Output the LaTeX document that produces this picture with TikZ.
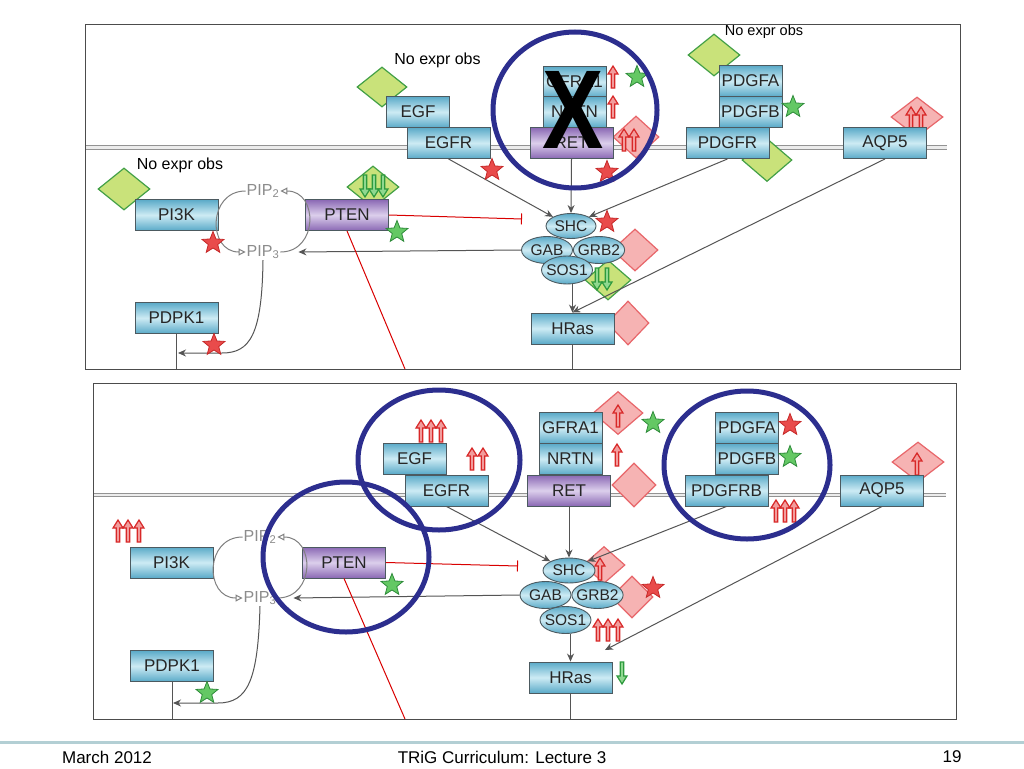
\documentclass[tikz,border=0pt]{standalone}
\usepackage{fontspec}
\setmainfont{Liberation Sans}
\usetikzlibrary{shapes.geometric,arrows.meta}

\definecolor{boxblue}{HTML}{5AAAC8}
\definecolor{boxlight}{HTML}{CDEBF4}
\definecolor{boxpurple}{HTML}{8A68B4}
\definecolor{purplelight}{HTML}{DCCFEC}
\definecolor{boxline}{HTML}{4C5A60}
\definecolor{ringblue}{HTML}{2C2E8E}
\definecolor{diagreen}{HTML}{C9E27A}
\definecolor{diagreenline}{HTML}{43A047}
\definecolor{diared}{HTML}{F6B3B3}
\definecolor{diaredline}{HTML}{E8666A}
\definecolor{starred}{HTML}{E94B4B}
\definecolor{starredline}{HTML}{C62828}
\definecolor{stargreen}{HTML}{64C864}
\definecolor{stargreenline}{HTML}{2E8B3A}
\definecolor{arrred}{HTML}{D82828}
\definecolor{arrpink}{HTML}{F29C9C}
\definecolor{arrgreen}{HTML}{2E9A3E}
\definecolor{arrlgreen}{HTML}{8FD88F}
\definecolor{wire}{HTML}{555555}
\definecolor{footline}{HTML}{B3CFD4}

\begin{document}
\begin{tikzpicture}[x=1pt,y=-1pt]
\tikzstyle{box}=[draw=boxline,line width=0.9pt,top color=boxblue,bottom color=boxblue,middle color=boxlight,minimum width=83pt,minimum height=31pt,inner sep=0pt,text=black!85,font=\fontsize{17}{18}\selectfont];
\tikzstyle{lig}=[box,minimum width=63pt];
\tikzstyle{pbox}=[box,top color=boxpurple,bottom color=boxpurple,middle color=purplelight];
\tikzstyle{prot}=[ellipse,draw=boxline,line width=0.9pt,top color=boxblue,bottom color=boxblue,middle color=boxlight,minimum width=51pt,minimum height=27pt,inner xsep=-3pt,inner ysep=2pt,text=black!85,font=\fontsize{15.5}{16}\selectfont];
\tikzstyle{gdia}=[diamond,draw=diagreenline,fill=diagreen,line width=1.2pt,minimum width=52pt,minimum height=42pt,inner sep=0pt];
\tikzstyle{rdia}=[diamond,draw=diaredline,fill=diared,line width=1.2pt,minimum width=46pt,minimum height=42pt,inner sep=0pt];
\tikzstyle{rstar}=[star,star points=5,star point ratio=2.3,draw=starredline,fill=starred,line width=0.8pt,minimum size=23pt,inner sep=0pt];
\tikzstyle{gstar}=[rstar,draw=stargreenline,fill=stargreen];
\tikzstyle{note}=[font=\fontsize{16}{17}\selectfont,inner sep=0pt];
\tikzstyle{pip}=[font=\fontsize{16}{17}\selectfont,text=gray!90,inner sep=1pt];
\tikzstyle{arr}=[draw=wire,line width=1pt,-{Stealth[length=8pt,width=7pt]}];
\tikzstyle{cyc}=[draw=gray,line width=1pt,-{Triangle[open,length=7pt,width=7pt]}];
\tikzstyle{inh}=[draw=red!85!black,line width=1pt,-{Bar[width=11pt]}];
\tikzstyle{redline}=[draw=red!85!black,line width=1pt];
\tikzstyle{wireline}=[draw=wire,line width=1pt];
\tikzstyle{ring}=[draw=ringblue,line width=5pt];
\tikzstyle{panel}=[draw=black!70,line width=0.9pt];
\tikzstyle{membrane}=[draw=gray!85,double=gray!15,double distance=2.2pt,line width=1.1pt];
\tikzstyle{foot}=[font=\fontsize{17}{18}\selectfont,inner sep=0pt];
\tikzset{uparr/.pic={\filldraw[draw=arrred,fill=arrpink,line width=1.2pt,line join=miter] (-1.8,11) -- (-1.8,-3) -- (-5,-3) -- (0,-11) -- (5,-3) -- (1.8,-3) -- (1.8,11) -- cycle;},
dnarr/.pic={\filldraw[draw=arrgreen,fill=arrlgreen,line width=1.2pt,line join=miter] (-1.8,-11) -- (-1.8,3) -- (-5,3) -- (0,11) -- (5,3) -- (1.8,3) -- (1.8,-11) -- cycle;}}

\fill[white] (0,0) rectangle (1024,768);
\useasboundingbox (0,0) rectangle (1024,768);

% top panel
\draw [panel] (85,24) rectangle (960,369);
\draw [membrane] (86,147.5) -- (947,147.5);

\node [gdia] (dpi3ka) at (124,189) {};
\node [gdia,minimum width=50pt,minimum height=40pt] (degfa) at (382,87) {};
\node [gdia] (dptena) at (373,187) {};
\pic at (365,186) {dnarr};
\pic at (374,186) {dnarr};
\pic at (383,186) {dnarr};
\node [rdia] (dreta) at (636,137) {};
\pic at (624,140) {uparr};
\pic at (634,140) {uparr};
\node [rdia] (dgrba) at (635,250) {};
\node [gdia,minimum width=46pt,minimum height=40pt] (dsosa) at (608,280) {};
\pic at (597,279) {dnarr};
\pic at (607,279) {dnarr};
\node [rdia,minimum width=42pt,minimum height=44pt] (dhrasa) at (628,323) {};
\node [gdia] (dpdgfa) at (714,55) {};
\node [gdia,minimum width=50pt,minimum height=43pt] (dpdgfra) at (767,160) {};
\node [rdia,minimum width=52pt,minimum height=40pt] (daqpa) at (917,117) {};
\pic at (911,118) {uparr};
\pic at (921,118) {uparr};

\node [box] (pi3ka) at (176.5,215) {PI3K};
\node [pbox] (ptena) at (347,215) {PTEN};
\node [box] (pdpka) at (176.5,318) {PDPK1};
\node [lig] (egfa) at (418,112) {EGF};
\node [box] (egfra) at (448.5,143) {EGFR};
\node [lig] (gfraa) at (574.5,82) {GFRA1};
\node [lig] (nrtna) at (574.5,112) {NRTN};
\node [pbox] (reta) at (571.5,143) {RET};
\node [lig] (pdgfaa) at (750.5,81) {PDGFA};
\node [lig] (pdgfba) at (750.5,111.5) {PDGFB};
\node [box] (pdgfra) at (727.5,143) {PDGFR};
\node [box] (aqpa) at (885,143) {AQP5};
\node [box] (hrasa) at (572.5,328.5) {HRas};

\node [prot] (gaba) at (547,250) {GAB};
\node [prot] (grba) at (599,250) {GRB2};
\node [prot,minimum width=50pt,minimum height=25pt] (shca) at (571,226) {SHC};
\node [prot,minimum height=28pt] (sosa) at (567,270) {SOS1};

\node [pip] (pip2a) at (263,191) {PIP\textsubscript{2}};
\node [pip] (pip3a) at (263,252) {PIP\textsubscript{3}};

\node [note] (nopi3ka) at (180,165) {No expr obs};
\node [note] (noegfa) at (437.5,60) {No expr obs};
\node [note,font=\fontsize{14.5}{15}\selectfont] (nopdgfa) at (764,32) {No expr obs};

\pic at (613,77) {uparr};
\pic at (613,107) {uparr};

\coordinate (pdpkja) at (178,353);
\coordinate (pdpkea) at (176.5,369);
\coordinate (inha) at (522,219);
\coordinate (ptenea) at (405,369);
\coordinate (hrasea) at (572.5,369);

\draw [cyc] (pip2a.west) to[out=180,in=180,looseness=1.6] (pip3a.west);
\draw [cyc] (pip3a.east) to[out=0,in=0,looseness=1.6] (pip2a.east);
\draw [arr] (gaba.west) -- ([xshift=18pt]pip3a.east);
\draw [arr] (pip3a.south) .. controls (262,335) and (250,353) .. (222,353) -- (pdpkja);
\draw [wireline] (pdpka.south) -- (pdpkea);
\draw [inh] (ptena.east) -- (inha);
\draw [redline] (ptena.south) -- (ptenea);
\draw [arr] (egfra.south) -- (shca.north west);
\draw [arr] (reta.south) -- (shca.north);
\draw [arr] (pdgfra.south) -- (shca.north east);
\draw [arr] (sosa.south -| hrasa.north) -- (hrasa.north);
\draw [arr] (aqpa.south) -- (hrasa.north);
\draw [wireline] (hrasa.south) -- (hrasea);

\node [rstar] (st1a) at (213,243) {};
\node [rstar] (st2a) at (214,345) {};
\node [gstar] (st3a) at (397,232) {};
\node [rstar] (st4a) at (492,170) {};
\node [rstar] (st5a) at (607,172) {};
\node [rstar] (st6a) at (607,222) {};
\node [gstar] (st7a) at (637,77) {};
\node [gstar] (st8a) at (793,107) {};

\draw [ring] (575,110) ellipse [x radius=82,y radius=78];
\node [font=\fontsize{112}{112}\selectfont\bfseries,xscale=0.82,inner sep=0pt] (xmark) at (573,110) {X};

% bottom panel
\draw [panel] (93,383) rectangle (956,719);
\draw [membrane] (94,495) -- (946,495);

\node [rdia,minimum width=50pt,minimum height=43pt] (dgfrab) at (618,413) {};
\pic at (618,416) {uparr};
\node [rdia,minimum width=44pt,minimum height=44pt] (dretb) at (634,485) {};
\node [rdia,minimum width=42pt,minimum height=37pt] (dshcb) at (604,565) {};
\pic at (600,569) {uparr};
\node [rdia,minimum width=42pt,minimum height=42pt] (dgrbb) at (632,597) {};
\node [rdia,minimum width=52pt,minimum height=40pt] (daqpb) at (918,462) {};
\pic at (917,464) {uparr};

\node [box] (pi3kb) at (171.5,562.5) {PI3K};
\node [pbox] (ptenb) at (344,562.5) {PTEN};
\node [box] (pdpkb) at (172,666) {PDPK1};
\node [lig] (egfb) at (414.5,458.5) {EGF};
\node [box] (egfrb) at (446.5,490.5) {EGFR};
\node [lig] (gfrab) at (570.5,428) {GFRA1};
\node [lig] (nrtnb) at (570.5,459) {NRTN};
\node [pbox] (retb) at (569,490.5) {RET};
\node [lig] (pdgfab) at (747,428) {PDGFA};
\node [lig] (pdgfbb) at (747,459) {PDGFB};
\node [box] (pdgfrbb) at (726.5,490.5) {PDGFRB};
\node [box] (aqpb) at (882,490.5) {AQP5};
\node [box] (hrasb) at (570.5,677.5) {HRas};

\node [prot] (gabb) at (545.5,595) {GAB};
\node [prot] (grbb) at (597.5,595) {GRB2};
\node [prot,minimum width=52pt,minimum height=25pt] (shcb) at (569,570.5) {SHC};
\node [prot] (sosb) at (565.5,620) {SOS1};

\node [pip] (pip2b) at (260,537) {PIP\textsubscript{2}};
\node [pip] (pip3b) at (260,598) {PIP\textsubscript{3}};

\pic at (118,531) {uparr};
\pic at (128,531) {uparr};
\pic at (139,531) {uparr};
\pic at (421,431) {uparr};
\pic at (431,431) {uparr};
\pic at (441,431) {uparr};
\pic at (472,459) {uparr};
\pic at (483,459) {uparr};
\pic at (617,455) {uparr};
\pic at (598,630) {uparr};
\pic at (608,630) {uparr};
\pic at (618,630) {uparr};
\pic at (776,511) {uparr};
\pic at (785,511) {uparr};
\pic at (794,511) {uparr};
\pic at (622,673) {dnarr};

\coordinate (pdpkjb) at (173,703);
\coordinate (pdpkeb) at (172,719);
\coordinate (inhb) at (518,566);
\coordinate (pteneb) at (405,719);
\coordinate (aqpjb) at (605,650);
\coordinate (hraseb) at (570.5,719);

\draw [cyc] (pip2b.west) to[out=180,in=180,looseness=1.6] (pip3b.west);
\draw [cyc] (pip3b.east) to[out=0,in=0,looseness=1.6] (pip2b.east);
\draw [arr] (gabb.west) -- ([xshift=16pt]pip3b.east);
\draw [arr] (pip3b.south) .. controls (258,680) and (248,703) .. (218,703) -- (pdpkjb);
\draw [wireline] (pdpkb.south) -- (pdpkeb);
\draw [inh] (ptenb.east) -- (inhb);
\draw [redline] (ptenb.south) -- (pteneb);
\draw [arr] (egfrb.south) -- (shcb.north west);
\draw [arr] (retb.south) -- (shcb.north);
\draw [arr] (pdgfrbb.south) -- (shcb.north east);
\draw [arr] (sosb.south -| hrasb.north) -- (hrasb.north);
\draw [arr] (aqpb.south) -- (aqpjb);
\draw [wireline] (hrasb.south) -- (hraseb);

\node [gstar] (st1b) at (392,585) {};
\node [gstar] (st2b) at (207,693) {};
\node [gstar] (st3b) at (653,423) {};
\node [rstar] (st4b) at (653,588) {};
\node [rstar] (st5b) at (790,425) {};
\node [gstar] (st6b) at (790,457) {};

\draw [ring] (439,460) ellipse [x radius=81,y radius=70];
\draw [ring] (346,557) ellipse [x radius=83,y radius=75];
\draw [ring] (747,465) ellipse [x radius=83,y radius=74];

% footer
\draw [draw=footline,line width=3pt] (0,742) -- (1024,742);
\node [foot] (date) at (107,757) {March 2012};
\node [foot] (title) at (502,757) {TRiG Curriculum: Lecture 3};
\node [foot] (page) at (952,757) {19};
\end{tikzpicture}
\end{document}
